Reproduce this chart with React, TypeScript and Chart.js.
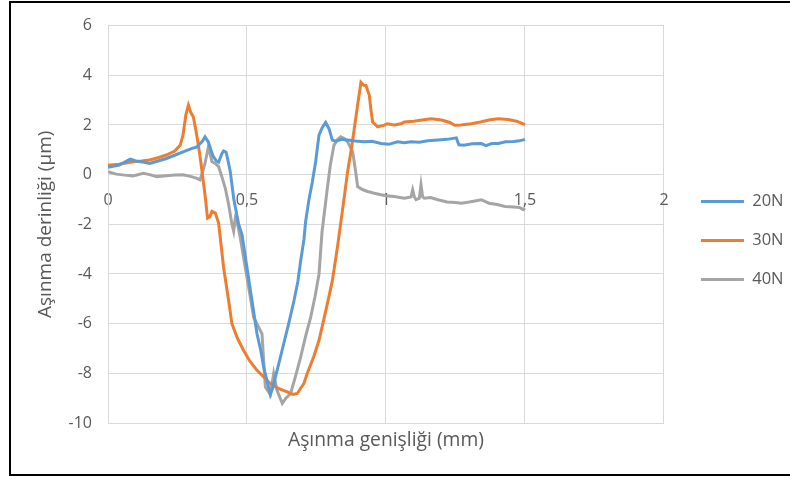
import React, { useEffect, useRef } from "react";
import { Chart, registerables } from "chart.js";

Chart.register(...registerables);

const SERIES_NAMES = ["20N", "30N", "40N"];
const SERIES_COLORS = ["#5B9BD5", "#ED7D31", "#A5A5A5"];

const X_TICKS = [0, 0.5, 1, 1.5, 2];
const X_TICK_LABELS = ["0", "0,5", "1", "1,5", "2"];
const Y_TICKS = [-10, -8, -6, -4, -2, 0, 2, 4, 6];

const X_TITLE = "Aşınma genişliği (mm)";
const Y_TITLE = "Aşınma derinliği (µm)";

const x20 = [0, 0.04, 0.08, 0.1, 0.13, 0.15, 0.18, 0.21, 0.24, 0.27, 0.3, 0.32, 0.34, 0.349, 0.361, 0.37, 0.379, 0.39, 0.398, 0.41, 0.416, 0.425, 0.433, 0.44, 0.452, 0.458, 0.47, 0.482, 0.5, 0.518, 0.536, 0.55, 0.56, 0.572, 0.584, 0.592, 0.602, 0.617, 0.632, 0.65, 0.669, 0.683, 0.693, 0.705, 0.711, 0.723, 0.735, 0.747, 0.759, 0.771, 0.783, 0.795, 0.807, 0.82, 0.84, 0.862, 0.89, 0.922, 0.95, 0.982, 1.01, 1.042, 1.066, 1.09, 1.12, 1.15, 1.187, 1.22, 1.253, 1.262, 1.28, 1.31, 1.343, 1.36, 1.38, 1.404, 1.43, 1.46, 1.48, 1.5];
const y20 = [0.3, 0.38, 0.62, 0.55, 0.5, 0.45, 0.55, 0.65, 0.78, 0.92, 1.05, 1.12, 1.35, 1.52, 1.32, 1.0, 0.72, 0.55, 0.5, 0.85, 0.95, 0.9, 0.5, 0.12, -0.95, -1.3, -2.0, -2.41, -3.75, -5.08, -6.41, -7.1, -7.75, -8.3, -8.85, -8.6, -8.15, -7.5, -6.81, -6.0, -5.08, -4.3, -3.48, -2.6, -1.88, -1.0, -0.3, 0.52, 1.59, 1.9, 2.1, 1.85, 1.39, 1.35, 1.42, 1.39, 1.35, 1.32, 1.34, 1.25, 1.22, 1.32, 1.28, 1.32, 1.3, 1.36, 1.39, 1.42, 1.48, 1.2, 1.18, 1.24, 1.25, 1.17, 1.25, 1.25, 1.32, 1.33, 1.36, 1.42];

const x30 = [0, 0.04, 0.09, 0.12, 0.15, 0.18, 0.21, 0.24, 0.26, 0.27, 0.28, 0.289, 0.298, 0.307, 0.316, 0.325, 0.334, 0.343, 0.35, 0.358, 0.366, 0.374, 0.386, 0.398, 0.404, 0.416, 0.434, 0.446, 0.466, 0.488, 0.51, 0.536, 0.56, 0.584, 0.61, 0.645, 0.665, 0.681, 0.693, 0.705, 0.717, 0.741, 0.759, 0.777, 0.795, 0.807, 0.825, 0.844, 0.862, 0.875, 0.886, 0.898, 0.91, 0.92, 0.928, 0.94, 0.946, 0.952, 0.97, 0.994, 1.006, 1.03, 1.054, 1.066, 1.1, 1.13, 1.163, 1.2, 1.23, 1.247, 1.27, 1.307, 1.34, 1.37, 1.404, 1.44, 1.47, 1.5];
const y30 = [0.38, 0.42, 0.52, 0.55, 0.59, 0.68, 0.79, 0.95, 1.19, 1.6, 2.4, 2.8, 2.5, 2.32, 1.8, 1.19, 0.5, -0.28, -0.9, -1.75, -1.7, -1.48, -1.55, -1.95, -2.55, -3.75, -5.08, -6.01, -6.6, -7.08, -7.5, -7.88, -8.15, -8.41, -8.6, -8.75, -8.85, -8.81, -8.6, -8.4, -8.0, -7.3, -6.68, -5.8, -4.9, -4.28, -2.95, -1.4, 0.12, 1.0, 1.85, 2.8, 3.72, 3.6, 3.59, 3.19, 2.6, 2.12, 1.92, 1.99, 2.05, 2.0, 2.05, 2.12, 2.15, 2.2, 2.25, 2.2, 2.1, 1.99, 2.0, 2.05, 2.12, 2.2, 2.25, 2.22, 2.15, 2.01];

const x40 = [0, 0.03, 0.06, 0.09, 0.127, 0.15, 0.175, 0.21, 0.24, 0.27, 0.3, 0.32, 0.331, 0.34, 0.349, 0.361, 0.368, 0.374, 0.386, 0.398, 0.41, 0.422, 0.434, 0.446, 0.452, 0.458, 0.464, 0.476, 0.494, 0.51, 0.524, 0.54, 0.554, 0.56, 0.566, 0.584, 0.596, 0.608, 0.627, 0.64, 0.657, 0.675, 0.693, 0.711, 0.729, 0.745, 0.759, 0.77, 0.789, 0.8, 0.813, 0.825, 0.837, 0.85, 0.862, 0.88, 0.89, 0.898, 0.915, 0.934, 0.958, 0.982, 1.0, 1.03, 1.066, 1.09, 1.096, 1.102, 1.108, 1.12, 1.126, 1.132, 1.138, 1.16, 1.187, 1.22, 1.25, 1.271, 1.3, 1.343, 1.37, 1.4, 1.428, 1.46, 1.48, 1.494, 1.5];
const y40 = [0.12, 0.02, -0.02, -0.05, 0.05, 0.0, -0.08, -0.05, -0.02, -0.01, -0.08, -0.15, -0.21, 0.1, 0.45, 1.12, 0.8, 0.52, 0.45, 0.32, -0.1, -0.55, -1.2, -2.01, -2.28, -1.75, -1.88, -2.55, -3.75, -4.8, -5.75, -6.1, -6.41, -7.5, -8.55, -8.85, -8.01, -8.68, -9.21, -9.0, -8.81, -8.1, -7.35, -6.5, -5.75, -4.9, -4.01, -2.3, -0.55, 0.4, 1.19, 1.4, 1.52, 1.45, 1.32, 0.92, 0.2, -0.48, -0.6, -0.68, -0.75, -0.81, -0.85, -0.88, -0.95, -0.9, -0.61, -0.9, -1.01, -0.95, -0.41, -0.9, -0.95, -0.92, -1.01, -1.1, -1.12, -1.15, -1.1, -1.01, -1.15, -1.2, -1.28, -1.3, -1.32, -1.41, -1.35];

const SERIES_X = [x20, x30, x40];
const SERIES_Y = [y20, y30, y40];

const FONT = "'Open Sans', sans-serif";
const TEXT = "#595959";
const GRID = "#D9D9D9";

const legendShift = {
  id: "legendShift",
  afterLayout(chart: any) {
    const lg = chart.legend;
    if (!lg) return;
    const target = chart.chartArea.right + 14.5;
    const d = target - lg.left;
    lg.left += d;
    lg.right += d;
  },
};

export default function App() {
  const ref = useRef<HTMLCanvasElement | null>(null);

  useEffect(() => {
    if (!ref.current) return;
    const datasets = SERIES_NAMES.map((name, i) => ({
      label: name,
      data: SERIES_X[i].map((x, j) => ({ x, y: SERIES_Y[i][j] })),
      borderColor: SERIES_COLORS[i],
      backgroundColor: SERIES_COLORS[i],
      borderWidth: 3,
      pointRadius: 0,
      tension: 0,
      showLine: true,
      xAxisID: "x",
      yAxisID: "y",
    }));

    const chart = new Chart(ref.current, {
      type: "scatter",
      data: { datasets },
      plugins: [legendShift],
      options: {
        animation: false,
        responsive: false,
        layout: { padding: { left: 30, top: 23, right: 11, bottom: 19 } },
        plugins: {
          tooltip: { enabled: false },
          legend: {
            position: "right",
            labels: {
              usePointStyle: true,
              pointStyle: "line",
              pointStyleWidth: 43,
              color: TEXT,
              padding: 22.5,
              font: { family: FONT, size: 16.5 },
            },
          },
        },
        scales: {
          x: {
            type: "linear",
            position: { y: 0 },
            min: 0,
            max: 2,
            afterBuildTicks: (s: any) => {
              s.ticks = X_TICKS.map((v) => ({ value: v }));
            },
            ticks: {
              color: TEXT,
              padding: 16,
              maxRotation: 0,
              font: { family: FONT, size: 16 },
              callback: (v: any) => {
                const k = X_TICKS.indexOf(Number(v));
                return k >= 0 ? X_TICK_LABELS[k] : "";
              },
            },
            grid: { color: GRID, lineWidth: 1, drawTicks: false },
            border: { display: true, color: GRID },
          },
          xt: {
            type: "linear",
            axis: "x",
            position: "bottom",
            min: 0,
            max: 2,
            ticks: { display: false },
            grid: { display: false, drawTicks: false },
            border: { display: false },
            title: {
              display: true,
              text: X_TITLE,
              color: TEXT,
              font: { family: FONT, size: 19.3 },
              padding: { top: 0, bottom: 6 },
            },
            afterFit: (s: any) => {
              s.height = 35;
            },
          },
          y: {
            type: "linear",
            min: -10,
            max: 6,
            afterBuildTicks: (s: any) => {
              s.ticks = Y_TICKS.map((v) => ({ value: v }));
            },
            ticks: {
              color: TEXT,
              padding: 16,
              font: { family: FONT, size: 16 },
            },
            grid: { color: GRID, lineWidth: 1, drawTicks: false },
            border: { display: true, color: GRID },
            title: {
              display: true,
              text: Y_TITLE,
              color: TEXT,
              font: { family: FONT, size: 19 },
              padding: { top: 4, bottom: 0 },
            },
            afterFit: (s: any) => {
              s.width = 78;
            },
          },
        },
      },
    } as any);
    return () => chart.destroy();
  }, []);

  return (
    <div
      style={{
        position: "fixed",
        left: 0,
        top: 0,
        width: 790,
        height: 477,
        overflow: "hidden",
        background: "#fff",
      }}
    >
      <canvas ref={ref} width={790} height={477} style={{ position: "absolute", left: 0, top: 0 }} />
      <div
        style={{
          position: "absolute",
          left: 9,
          top: 1,
          width: 800,
          height: 475,
          boxSizing: "border-box",
          border: "2px solid #000",
          pointerEvents: "none",
        }}
      />
    </div>
  );
}
